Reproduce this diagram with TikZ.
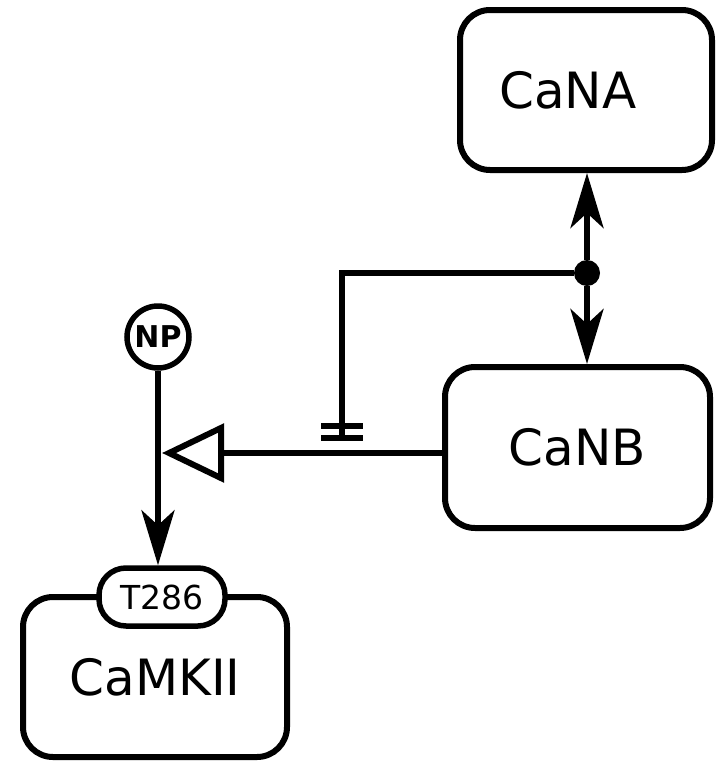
\documentclass[tikz,border=0pt]{standalone}
\usepackage{fontspec}
\setmainfont{DejaVu Sans}
\usepackage{tikz}
\usetikzlibrary{arrows.meta, positioning, calc}

\begin{document}
\begin{tikzpicture}[
    x=1pt, y=-1pt,
    box/.style={draw, rounded corners=30pt, line width=6pt, minimum width=254pt, minimum height=160pt, font=\fontsize{50}{60}\selectfont},
    site/.style={draw, fill=white, rounded corners=27pt, line width=5.5pt, minimum width=126pt, minimum height=58pt, inner sep=0pt, font=\fontsize{33}{40}\selectfont},
    tag/.style={draw, circle, line width=5.5pt, minimum size=62pt, inner sep=0pt, font=\fontsize{30}{36}\selectfont\bfseries},
    arr/.style={-{Stealth[length=55pt, width=33pt, inset=15pt]}, line width=6pt},
    stim/.style={-{Triangle[open, length=62pt, width=58pt]}, line width=6pt, shorten >=4pt},
    line/.style={line width=6pt}
]
    \useasboundingbox (0,0) rectangle (720,763);

    \node[box, minimum width=252pt] (cana) at (586, 90) {CaNA\hspace*{36pt}};
    \node[box, minimum width=265pt, minimum height=161pt] (canb) at (577.5, 447.5) {CaNB};
    \node[box, minimum width=264pt] (camkii) at (155, 677) {CaMKII};
    \node[site] (t286) at (162, 597) {T286};
    \node[tag] (np) at (158, 337) {NP};

    \node[circle, fill, minimum size=26pt, inner sep=0pt] (dot) at (587, 273) {};
    \coordinate (nec) at (342, 438);
    \coordinate (mid) at (158, 453);

    \draw[arr] (dot) -- (cana.south -| dot);
    \draw[arr] (dot) -- (canb.north -| dot);

    % necessary stimulation on the CaNB branch
    \draw[line] (dot) -| (nec);
    \draw[line, line width=6.5pt] (nec) ++(-21, 0) -- ++(42, 0);
    \draw[line, line width=6.5pt] (nec) ++(-21, -12) -- ++(42, 0);

    \draw[arr] (np.south) -- (np.south |- t286.north);
    \draw[stim] (canb.west |- mid) -- (mid);
\end{tikzpicture}
\end{document}
